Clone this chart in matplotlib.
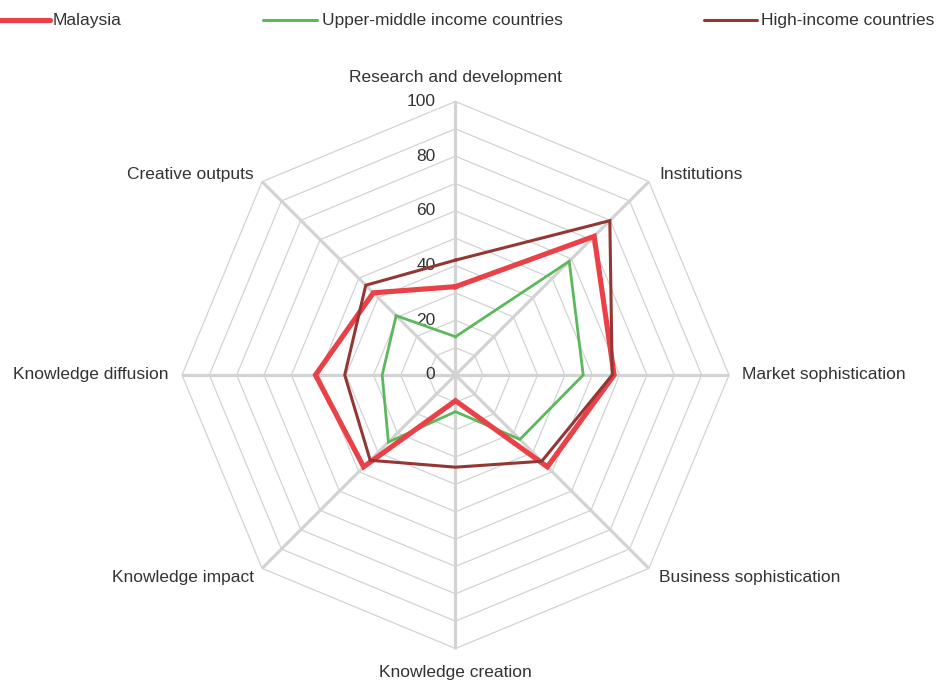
import numpy as np
import matplotlib
matplotlib.use("Agg")
import matplotlib.pyplot as plt
from matplotlib.lines import Line2D

plt.rcParams['font.family'] = ['Liberation Sans', 'DejaVu Sans']

# ---------------- data ----------------
categories = ["Research and development", "Institutions", "Market sophistication",
              "Business sophistication", "Knowledge creation", "Knowledge impact",
              "Knowledge diffusion", "Creative outputs"]
malaysia = [32.3, 71.7, 58.0, 47.5, 9.4, 47.5, 51.2, 42.5]
upper_middle = [14.0, 58.8, 46.7, 33.3, 13.4, 34.7, 26.8, 30.7]
high_income = [42.0, 79.8, 57.3, 44.6, 33.7, 44.1, 40.5, 46.4]
series_names = ["Malaysia", "Upper-middle income countries", "High-income countries"]
tick_values = [0, 20, 40, 60, 80, 100]

# ---------------- styles ----------------
C_MY = "#ea4149"
C_UM = "#5cb85c"
C_HI = "#943634"
GRID = "#d3d3d3"
TXT = "#333333"
FS = 12.5

W, H = 936, 682
cx, cy = 455.5, 375.0      # centre in pixels
S = 2.735                  # pixels per data unit

fig = plt.figure(figsize=(W / 100, H / 100), dpi=100)
ax = fig.add_axes([0, 0, 1, 1])
ax.set_xlim(-cx / S, (W - cx) / S)
ax.set_ylim(-(H - cy) / S, cy / S)
ax.axis('off')

n = len(categories)
theta = np.pi / 2 - np.arange(n) * 2 * np.pi / n


def xy(vals):
    v = np.asarray(vals, dtype=float)
    x = v * np.cos(theta)
    y = v * np.sin(theta)
    return np.append(x, x[0]), np.append(y, y[0])


# octagon grid every 10
for r in range(10, 101, 10):
    gx, gy = xy([r] * n)
    ax.plot(gx, gy, color=GRID, lw=0.9, zorder=1)
# spokes
for t in theta:
    ax.plot([0, 100 * np.cos(t)], [0, 100 * np.sin(t)], color=GRID, lw=2.3,
            zorder=1, solid_capstyle='butt')

# tick labels
for v in tick_values:
    ax.text(-20 / S, v, str(v), ha='right', va='center', fontsize=FS,
            color=TXT, zorder=2)

# category labels (pixel offsets outward from the r=100 vertex)
offsets = [(0, 24, 'center'), (10, 7.5, 'left'), (13, 0, 'left'), (10, -9, 'left'),
           (0, -24.5, 'center'), (-8, -9, 'right'), (-13, 0, 'right'), (-8, 7.5, 'right')]
for cat, t, (dx, dy, ha) in zip(categories, theta, offsets):
    x0 = 100 * np.cos(t) + dx / S
    y0 = 100 * np.sin(t) + dy / S
    ax.text(x0, y0, cat, ha=ha, va='center', fontsize=FS, color=TXT)

# series
x, y = xy(upper_middle)
ax.plot(x, y, color=C_UM, lw=2.0, zorder=3, solid_joinstyle='miter')
x, y = xy(malaysia)
ax.plot(x, y, color=C_MY, lw=3.7, zorder=4, solid_joinstyle='miter')
x, y = xy(high_income)
ax.plot(x, y, color=C_HI, lw=2.2, zorder=5, solid_joinstyle='miter')


# legend (custom placement at top)
def px(xp, yp):
    return (xp - cx) / S, (cy - yp) / S


leg = [(series_names[0], C_MY, 3.7, 0, 50, 53),
       (series_names[1], C_UM, 2.2, 263, 317, 322),
       (series_names[2], C_HI, 2.2, 704, 757, 761)]
for name, col, lw, x1, x2, xt in leg:
    a = px(x1, 20)
    b = px(x2, 20)
    ax.add_line(Line2D([a[0], b[0]], [a[1], b[1]], color=col, lw=lw,
                       solid_capstyle='round', clip_on=False))
    tx = px(xt, 20)
    ax.text(tx[0], tx[1], name, ha='left', va='center', fontsize=FS, color=TXT)

fig.savefig("out.png", dpi=100)
